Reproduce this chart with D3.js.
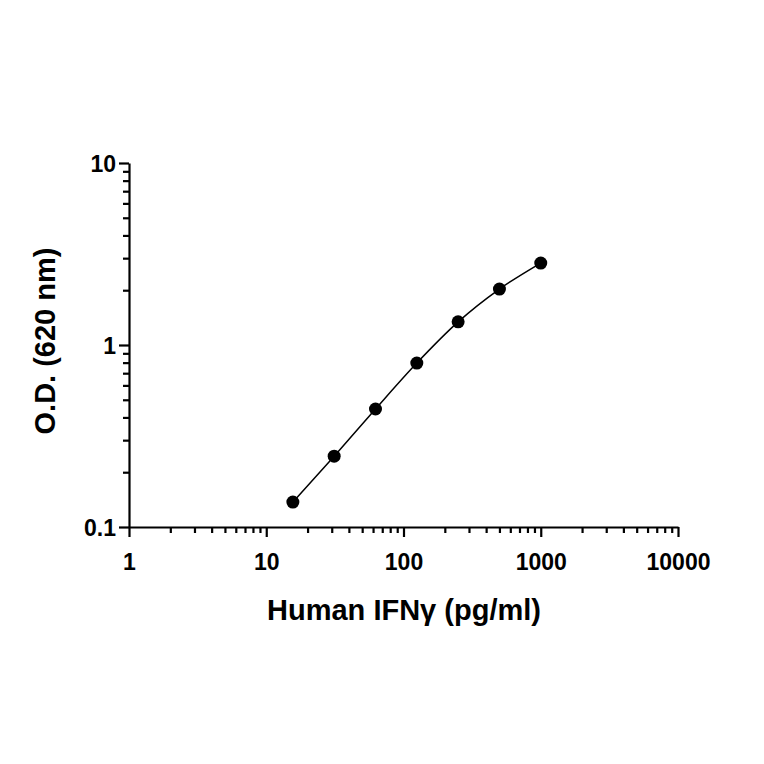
<!DOCTYPE html>
<html><head><meta charset="utf-8">
<script src="https://cdn.jsdelivr.net/npm/d3@7"></script>
<style>body{margin:0;background:#fff}svg{font-family:"Liberation Sans",Arial,sans-serif;font-weight:bold}</style>
</head><body><svg id="c" width="764" height="764"></svg>
<script>
const conc = [15.625, 31.25, 62.5, 125, 250, 500, 1000];
const od = [0.137, 0.245, 0.445, 0.796, 1.34, 2.03, 2.82];
const xTicks = [1, 10, 100, 1000, 10000];
const yTicks = [0.1, 1, 10];

const svg = d3.select("#c");
const x = d3.scaleLog().domain([1, 10000]).range([129, 678]);
const y = d3.scaleLog().domain([0.1, 10]).range([527, 163]);

const minorX = [];
for (let d = 1; d < 10000; d *= 10) for (let k = 2; k <= 9; k++) minorX.push(d * k);
const minorY = [];
for (let d = 0.1; d < 9; d *= 10) for (let k = 2; k <= 9; k++) minorY.push(d * k);

const xa = svg.append("g").attr("transform", "translate(0,527)")
  .call(d3.axisBottom(x).tickValues(xTicks).tickFormat(d3.format("d")).tickSize(10).tickSizeOuter(0));
svg.append("g").attr("transform", "translate(0,527)")
  .call(d3.axisBottom(x).tickValues(minorX).tickFormat("").tickSize(6).tickSizeOuter(0))
  .select(".domain").remove();
const ya = svg.append("g").attr("transform", "translate(129,0)")
  .call(d3.axisLeft(y).tickValues(yTicks).tickFormat(d => d3.format("~g")(d)).tickSize(10).tickSizeOuter(0));
svg.append("g").attr("transform", "translate(129,0)")
  .call(d3.axisLeft(y).tickValues(minorY).tickFormat("").tickSize(6).tickSizeOuter(0))
  .select(".domain").remove();
svg.selectAll(".domain,.tick line").attr("stroke", "#000").attr("stroke-width", 2.2);
xa.selectAll("text").attr("font-size", 23).attr("dy", "1.3em").attr("fill", "#000");
ya.selectAll("text").attr("font-size", 23).attr("dy", "0.35em").attr("fill", "#000");

const pts = conc.map((c, i) => [c, od[i]]);
svg.append("path").datum(pts)
  .attr("d", d3.line().x(d => x(d[0])).y(d => y(d[1])).curve(d3.curveMonotoneX))
  .attr("fill", "none").attr("stroke", "#000").attr("stroke-width", 1.5);
svg.selectAll("circle").data(pts).join("circle")
  .attr("cx", d => x(d[0])).attr("cy", d => y(d[1])).attr("r", 6.5).attr("fill", "#000");

svg.append("text").attr("x", 404).attr("y", 620).attr("text-anchor", "middle")
  .attr("font-size", 29).text("Human IFNγ (pg/ml)");
svg.append("text").attr("transform", "translate(55,341) rotate(-90)").attr("text-anchor", "middle")
  .attr("font-size", 29).text("O.D. (620 nm)");
</script></body></html>
